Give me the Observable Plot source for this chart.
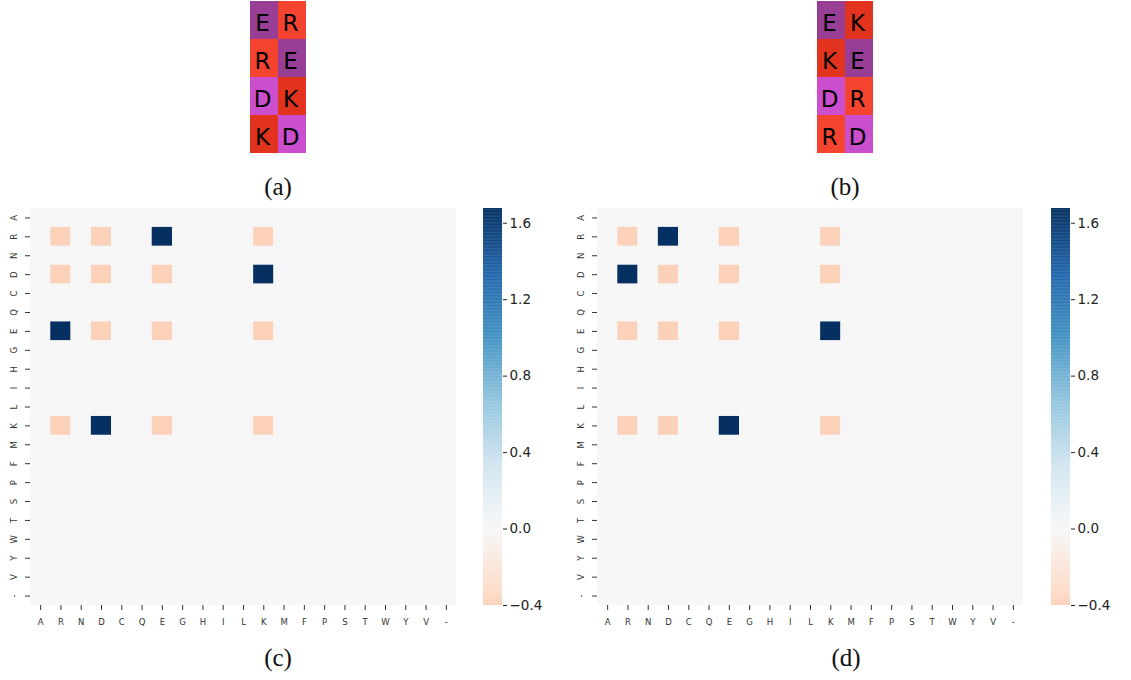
<!DOCTYPE html>
<html>
<head>
<meta charset="utf-8">
<script src="https://cdn.jsdelivr.net/npm/d3@7"></script>
<script src="https://cdn.jsdelivr.net/npm/@observablehq/plot@0.6"></script>
<style>
  html, body { margin: 0; padding: 0; background: #fff; }
  #root { position: relative; width: 1131px; height: 680px; overflow: hidden; background: #fff; }
  .panel { position: absolute; }
  .cap { position: absolute; font-family: "Liberation Serif", "DejaVu Serif", serif; font-size: 25px; color: #111; transform: translate(-50%, -50%); white-space: nowrap; }
</style>
</head>
<body>
<div id="root"></div>
<script>
// ---------------- data ----------------
const residues = ["A","R","N","D","C","Q","E","G","H","I","L","K","M","F","P","S","T","W","Y","V","-"];
const charged = ["R","D","E","K"];            // rows / columns holding the non-zero entries
// panel (c): rows R, D, E, K  x  cols R, D, E, K
const valuesC = [
  [-0.40, -0.40,  1.677, -0.40],
  [-0.40, -0.40, -0.40,   1.677],
  [ 1.677,-0.40, -0.40,  -0.40],
  [-0.40,  1.677,-0.40,  -0.40]
];
// panel (d)
const valuesD = [
  [-0.40,  1.677,-0.40, -0.40],
  [ 1.677,-0.40, -0.40, -0.40],
  [-0.40, -0.40, -0.40,  1.677],
  [-0.40, -0.40,  1.677,-0.40]
];
const bandValue = -0.01;     // faint tint along the charged rows / columns (A … V)
const colorbarTicks = [-0.4, 0.0, 0.4, 0.8, 1.2, 1.6];
const vmin = -0.4, vmax = 1.677;

// matplotlib "RdBu" (ColorBrewer 11 stops, linear segments)
const rdbuStops = ["#67001f","#b2182b","#d6604d","#f4a582","#fddbc7","#f7f7f7","#d1e5f0","#92c5de","#4393c3","#2166ac","#053061"];

const tilesA = [["E","R"],["R","E"],["D","K"],["K","D"]];
const tilesB = [["E","K"],["K","E"],["D","R"],["R","D"]];
const tileColors = {E: "#983f95", R: "#f4442f", K: "#e2331f", D: "#cb4ecd"};
const captions = ["(a)", "(b)", "(c)", "(d)"];

// ---------------- helpers ----------------
const rdbu = d3.piecewise(d3.interpolateRgb, rdbuStops);
const root = document.getElementById("root");
function place(node, left, top) {
  const d = document.createElement("div");
  d.className = "panel";
  d.style.left = left + "px";
  d.style.top = top + "px";
  d.appendChild(node);
  root.appendChild(d);
}
function caption(text, cx, cy) {
  const d = document.createElement("div");
  d.className = "cap";
  d.textContent = text;
  d.style.left = cx + "px";
  d.style.top = cy + "px";
  root.appendChild(d);
}

function buildCells(values) {
  const cells = [];
  for (const r of residues) for (const c of residues) {
    let v = 0;
    const ri = charged.indexOf(r), ci = charged.indexOf(c);
    if (ri >= 0 && ci >= 0) v = values[ri][ci];
    else if ((ri >= 0 && c !== "-") || (ci >= 0 && r !== "-")) v = bandValue;
    cells.push({row: r, col: c, v});
  }
  return cells;
}

function heatmap(values) {
  return Plot.plot({
    width: 470, height: 430,
    marginLeft: 30, marginTop: 8, marginRight: 14, marginBottom: 25,
    style: {fontFamily: "DejaVu Sans", background: "transparent"},
    x: {domain: residues, padding: 0, round: false, axis: null},
    y: {domain: residues, padding: 0, round: false, axis: null},
    color: {type: "linear", domain: [-vmax, vmax], interpolate: rdbu},
    marks: [
      Plot.cell(buildCells(values), {x: "col", y: "row", fill: "v", inset: 0}),
      Plot.axisX({anchor: "bottom", tickSize: 5, tickPadding: 8, fontSize: 8.5, color: "#333", label: null}),
      Plot.axisY({anchor: "left", tickSize: 5, tickPadding: 9, fontSize: 8.5, color: "#333", tickRotate: -90, label: null})
    ]
  });
}

function colorbar() {
  const step = 0.004;
  const steps = d3.range(vmin, vmax, step).map(v => ({v0: v, v1: Math.min(v + step * 1.5, vmax), v}));
  return Plot.plot({
    width: 88, height: 430,
    marginLeft: 8, marginRight: 61, marginTop: 8, marginBottom: 25,
    style: {fontFamily: "DejaVu Sans", background: "transparent"},
    x: {domain: [0, 1], axis: null},
    y: {domain: [vmin, vmax], axis: null},
    color: {type: "linear", domain: [-vmax, vmax], interpolate: rdbu},
    marks: [
      Plot.rect(steps, {x1: 0, x2: 1, y1: "v0", y2: "v1", fill: "v"}),
      Plot.axisY({anchor: "right", ticks: colorbarTicks, tickFormat: d3.format(".1f"),
                  tickSize: 4, tickPadding: 3, fontSize: 13.5, color: "#222", label: null})
    ]
  });
}

function tiles(grid) {
  const data = [];
  grid.forEach((row, r) => row.forEach((aa, c) => data.push({r, c, aa})));
  return Plot.plot({
    width: 56, height: 152, margin: 0,
    style: {fontFamily: "DejaVu Sans", background: "transparent"},
    x: {domain: [0, 1], padding: 0, round: false, axis: null},
    y: {domain: [0, 1, 2, 3], padding: 0, round: false, axis: null},
    color: {type: "identity"},
    marks: [
      Plot.cell(data, {x: "c", y: "r", fill: d => tileColors[d.aa], inset: 0}),
      Plot.text(data, {x: "c", y: "r", text: "aa", fontSize: 23, fill: "#000", dx: -2, dy: 3})
    ]
  });
}

// ---------------- layout ----------------
place(tiles(tilesA), 250, 1);
place(tiles(tilesB), 817, 1);
place(heatmap(valuesC), 0, 200);
place(colorbar(), 475, 200);
place(heatmap(valuesD), 567, 200);
place(colorbar(), 1043, 200);

caption(captions[0], 278, 187);
caption(captions[1], 845, 187);
caption(captions[2], 278, 658);
caption(captions[3], 846, 658);
</script>
</body>
</html>
